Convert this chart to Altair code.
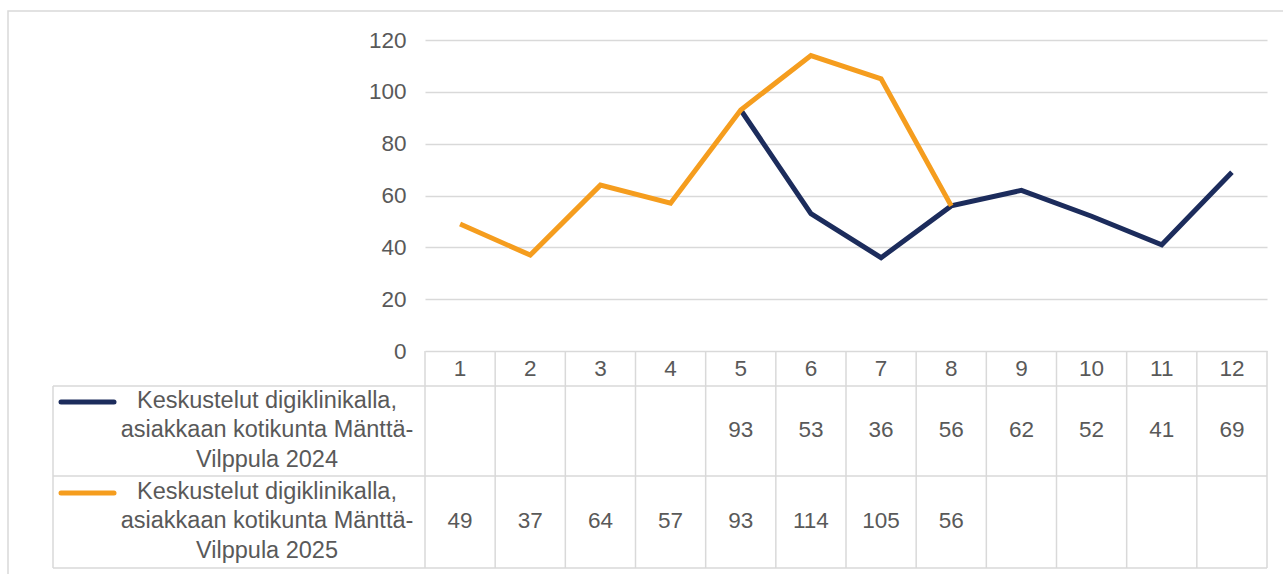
import altair as alt
import pandas as pd

# ---- data ----
months = list(range(1, 13))
series = ["2024", "2025"]
series_labels = [
    "Keskustelut digiklinikalla,\nasiakkaan kotikunta Mänttä-\nVilppula 2024",
    "Keskustelut digiklinikalla,\nasiakkaan kotikunta Mänttä-\nVilppula 2025",
]
values_2024 = [None, None, None, None, 93, 53, 36, 56, 62, 52, 41, 69]
values_2025 = [49, 37, 64, 57, 93, 114, 105, 56, None, None, None, None]
y_ticks = [0, 20, 40, 60, 80, 100, 120]
colors = ["#1c2c5c", "#f59d1e"]

# ---- layout (pixels) ----
W, H = 842, 311
HEADER_BOTTOM, ROW1_BOTTOM, ROW2_BOTTOM = 346, 436, 528
LEG_LEFT = -372
ROW_CENTERS = [391, 482]
GRID = "#d9d9d9"
TXT = "#595959"
FONT = "Liberation Sans"
FS = 22.5
FS_LEG = 23.5

rows = []
for s, vals in zip(series, [values_2024, values_2025]):
    for m, v in zip(months, vals):
        if v is not None:
            rows.append({"month": m, "value": v, "series": s})
df = pd.DataFrame(rows)

xscale = alt.Scale(domain=[0.5, 12.5], nice=False, zero=False)
color = alt.Color("series:N", scale=alt.Scale(domain=series, range=colors), legend=None)

lines = alt.Chart(df).mark_line(strokeWidth=5).encode(
    x=alt.X("month:Q", scale=xscale, axis=None),
    y=alt.Y(
        "value:Q",
        scale=alt.Scale(domain=[0, 120], nice=False),
        axis=alt.Axis(
            values=y_ticks, grid=True, domain=False, ticks=False, title=None,
            labelPadding=19, labelFontSize=FS, labelColor=TXT, labelFont=FONT,
            gridColor=GRID, gridWidth=1.5,
        ),
    ),
    color=color,
    order="month:Q",
)

one = pd.DataFrame({"k": [0]})

# vertical table lines at column boundaries
bounds = pd.DataFrame({"b": [m - 0.5 for m in months] + [12.5]})
vlines = alt.Chart(bounds).mark_rule(color=GRID, strokeWidth=1.5).encode(
    x=alt.X("b:Q", scale=xscale, axis=None),
    y=alt.value(H), y2=alt.value(ROW2_BOTTOM),
)
leg_left = alt.Chart(one).mark_rule(color=GRID, strokeWidth=1.5).encode(
    x=alt.value(LEG_LEFT), y=alt.value(HEADER_BOTTOM), y2=alt.value(ROW2_BOTTOM)
)
hlines = [
    alt.Chart(one).mark_rule(color=GRID, strokeWidth=1.5).encode(
        x=alt.value(LEG_LEFT), x2=alt.value(W), y=alt.value(yy)
    )
    for yy in [HEADER_BOTTOM, ROW1_BOTTOM, ROW2_BOTTOM]
]

# outer frame
frame = alt.Chart(one).mark_rect(fill=None, stroke=GRID, strokeWidth=1.5).encode(
    x=alt.value(-417), x2=alt.value(900), y=alt.value(-29), y2=alt.value(600)
)

# header numbers
hdr = pd.DataFrame({"month": months, "label": [str(m) for m in months]})
header = alt.Chart(hdr).mark_text(fontSize=FS, color=TXT, font=FONT).encode(
    x=alt.X("month:Q", scale=xscale, axis=None), y=alt.value(329), text="label:N"
)

layers = [frame, lines, vlines, leg_left] + hlines + [header]

for s, lab, yc in zip(series, series_labels, ROW_CENTERS):
    sub = df[df["series"] == s]
    layers.append(
        alt.Chart(sub).mark_text(fontSize=FS, color=TXT, font=FONT).encode(
            x=alt.X("month:Q", scale=xscale, axis=None), y=alt.value(yc - 1),
            text=alt.Text("value:Q", format="d"),
        )
    )
    leg = pd.DataFrame({"series": [s], "label": [lab]})
    layers.append(
        alt.Chart(leg).mark_text(fontSize=FS_LEG, color=TXT, font=FONT, align="center",
                                 baseline="middle", lineBreak="\n", lineHeight=29.5).encode(
            x=alt.value(-158), y=alt.value(yc - 30.5), text="label:N"
        )
    )
    layers.append(
        alt.Chart(leg).mark_rule(strokeWidth=5, strokeCap="round").encode(
            x=alt.value(-364), x2=alt.value(-311), y=alt.value(yc - 29), color=color
        )
    )

chart = alt.layer(*layers).properties(
    width=W, height=H,
    padding={"left": 425, "top": 40, "right": 16, "bottom": 223},
    autosize="none",
    background="white",
).configure_view(stroke=None)

chart.save("out.html", embed_options={"renderer": "svg", "actions": False})
